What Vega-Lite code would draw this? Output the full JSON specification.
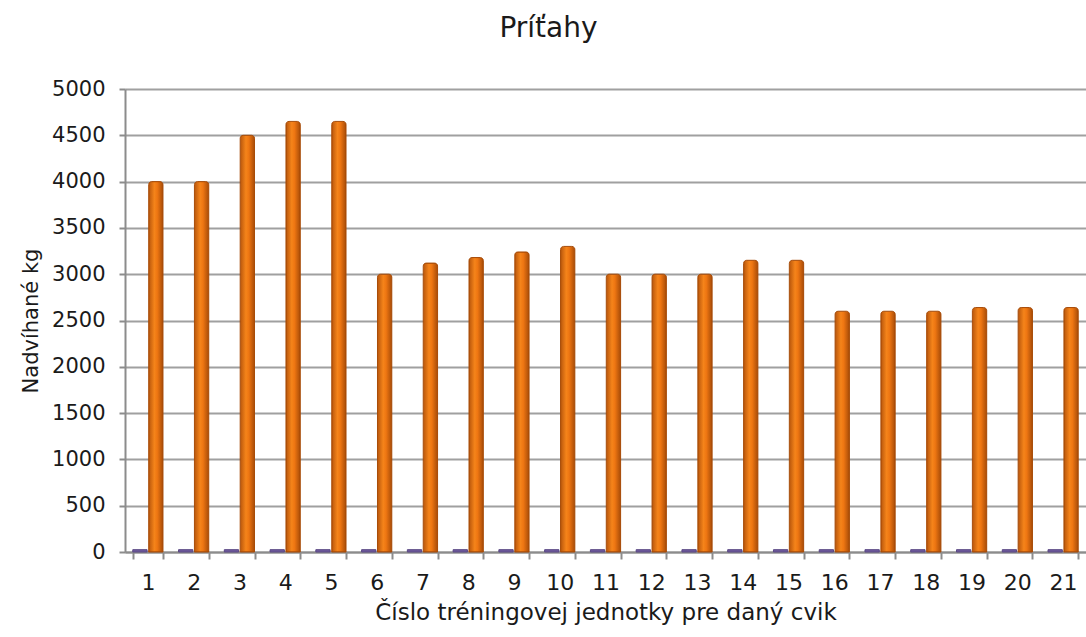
{
  "$schema": "https://vega.github.io/schema/vega-lite/v6.json",
  "autosize": {"type": "none"},
  "width": 961,
  "height": 463,
  "padding": {"left": 125, "top": 89, "right": 0, "bottom": 85},
  "background": "white",
  "title": {
    "text": "Príťahy",
    "font": "DejaVu Sans",
    "fontSize": 28,
    "fontWeight": "normal",
    "color": "#1a1a1a",
    "anchor": "middle",
    "dx": -57,
    "offset": 35
  },
  "data": {
    "values": [
      {"jednotka": "1", "seria": "B", "kg": 25}, {"jednotka": "1", "seria": "A", "kg": 4000},
      {"jednotka": "2", "seria": "B", "kg": 25}, {"jednotka": "2", "seria": "A", "kg": 4000},
      {"jednotka": "3", "seria": "B", "kg": 25}, {"jednotka": "3", "seria": "A", "kg": 4500},
      {"jednotka": "4", "seria": "B", "kg": 25}, {"jednotka": "4", "seria": "A", "kg": 4650},
      {"jednotka": "5", "seria": "B", "kg": 25}, {"jednotka": "5", "seria": "A", "kg": 4650},
      {"jednotka": "6", "seria": "B", "kg": 25}, {"jednotka": "6", "seria": "A", "kg": 3000},
      {"jednotka": "7", "seria": "B", "kg": 25}, {"jednotka": "7", "seria": "A", "kg": 3120},
      {"jednotka": "8", "seria": "B", "kg": 25}, {"jednotka": "8", "seria": "A", "kg": 3180},
      {"jednotka": "9", "seria": "B", "kg": 25}, {"jednotka": "9", "seria": "A", "kg": 3240},
      {"jednotka": "10", "seria": "B", "kg": 25}, {"jednotka": "10", "seria": "A", "kg": 3300},
      {"jednotka": "11", "seria": "B", "kg": 25}, {"jednotka": "11", "seria": "A", "kg": 3000},
      {"jednotka": "12", "seria": "B", "kg": 25}, {"jednotka": "12", "seria": "A", "kg": 3000},
      {"jednotka": "13", "seria": "B", "kg": 25}, {"jednotka": "13", "seria": "A", "kg": 3000},
      {"jednotka": "14", "seria": "B", "kg": 25}, {"jednotka": "14", "seria": "A", "kg": 3150},
      {"jednotka": "15", "seria": "B", "kg": 25}, {"jednotka": "15", "seria": "A", "kg": 3150},
      {"jednotka": "16", "seria": "B", "kg": 25}, {"jednotka": "16", "seria": "A", "kg": 2600},
      {"jednotka": "17", "seria": "B", "kg": 25}, {"jednotka": "17", "seria": "A", "kg": 2600},
      {"jednotka": "18", "seria": "B", "kg": 25}, {"jednotka": "18", "seria": "A", "kg": 2600},
      {"jednotka": "19", "seria": "B", "kg": 25}, {"jednotka": "19", "seria": "A", "kg": 2640},
      {"jednotka": "20", "seria": "B", "kg": 25}, {"jednotka": "20", "seria": "A", "kg": 2640},
      {"jednotka": "21", "seria": "B", "kg": 25}, {"jednotka": "21", "seria": "A", "kg": 2640}
    ]
  },
  "encoding": {
    "x": {
      "field": "jednotka",
      "type": "ordinal",
      "sort": null,
      "scale": {"paddingInner": 0.34, "paddingOuter": 0.17},
      "axis": {
        "title": "Číslo tréningovej jednotky pre daný cvik",
        "titleFont": "DejaVu Sans",
        "titleFontSize": 23,
        "titleFontWeight": "normal",
        "titleColor": "#1a1a1a",
        "titlePadding": 8,
        "labelFont": "DejaVu Sans",
        "labelFontSize": 22,
        "labelColor": "#1a1a1a",
        "labelAngle": 0,
        "labelPadding": 13,
        "tickBand": "extent",
        "tickSize": 7,
        "tickColor": "#8c8c8c",
        "tickWidth": 2,
        "domainColor": "#8c8c8c",
        "domainWidth": 2,
        "grid": false
      }
    },
    "xOffset": {"field": "seria", "type": "nominal", "scale": {"domain": ["B", "A"], "paddingInner": 0.1}},
    "y": {
      "field": "kg",
      "type": "quantitative",
      "scale": {"domain": [0, 5000], "nice": false},
      "axis": {
        "title": "Nadvíhané kg",
        "titleFont": "DejaVu Sans",
        "titleFontSize": 21,
        "titleFontWeight": "normal",
        "titleColor": "#1a1a1a",
        "titlePadding": 10,
        "labelFont": "DejaVu Sans",
        "labelFontSize": 21,
        "labelColor": "#1a1a1a",
        "labelPadding": 14,
        "format": "d",
        "values": [0, 500, 1000, 1500, 2000, 2500, 3000, 3500, 4000, 4500, 5000],
        "tickSize": 6,
        "tickColor": "#8c8c8c",
        "tickWidth": 2,
        "domainColor": "#8c8c8c",
        "domainWidth": 2,
        "gridColor": "#a0a0a0",
        "gridWidth": 2
      }
    }
  },
  "layer": [
    {
      "transform": [{"filter": "datum.seria === 'B'"}],
      "mark": {"type": "bar", "fill": "#6E5A9C", "stroke": "#5A4884", "strokeWidth": 1}
    },
    {
      "transform": [{"filter": "datum.seria === 'A'"}],
      "mark": {
        "type": "bar",
        "cornerRadiusTopLeft": 3,
        "cornerRadiusTopRight": 3,
        "stroke": "#A84C08",
        "strokeWidth": 1,
        "fill": {
          "gradient": "linear",
          "x1": 0, "x2": 1, "y1": 0, "y2": 0,
          "stops": [
            {"offset": 0, "color": "#B8560C"},
            {"offset": 0.4, "color": "#F5841A"},
            {"offset": 0.6, "color": "#EE7612"},
            {"offset": 1, "color": "#A84C08"}
          ]
        }
      }
    }
  ],
  "config": {"view": {"stroke": null}}
}
